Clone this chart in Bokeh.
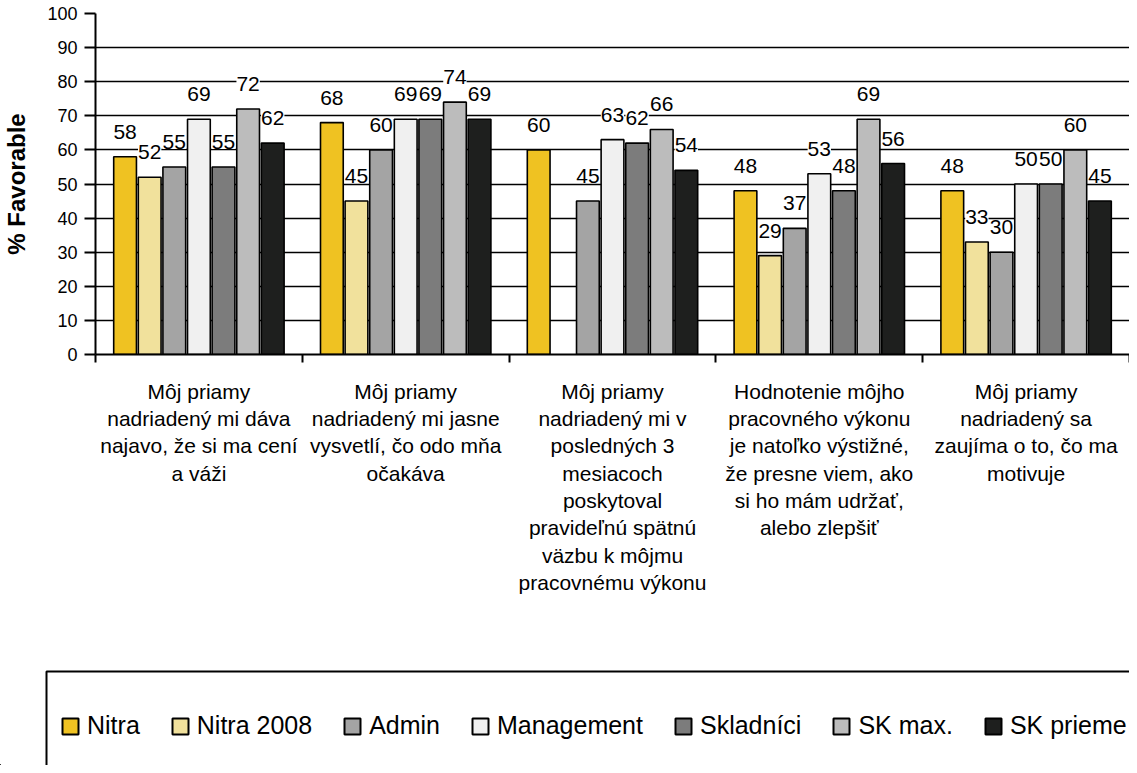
from bokeh.plotting import figure
from bokeh.models import ColumnDataSource, LabelSet, FixedTicker, Legend, LegendItem, Range1d
from bokeh.core.properties import value
from bokeh.layouts import column
from bokeh.embed import file_html
from bokeh.resources import INLINE

# ---------------- data ----------------
categories = [
    "Môj priamy\nnadriadený mi dáva\nnajavo, že si ma cení\na váži",
    "Môj priamy\nnadriadený mi jasne\nvysvetlí, čo odo mňa\nočakáva",
    "Môj priamy\nnadriadený mi v\nposledných 3\nmesiacoch\nposkytoval\npravideľnú spätnú\nväzbu k môjmu\npracovnému výkonu",
    "Hodnotenie môjho\npracovného výkonu\nje natoľko výstižné,\nže presne viem, ako\nsi ho mám udržať,\nalebo zlepšiť",
    "Môj priamy\nnadriadený sa\nzaujíma o to, čo ma\nmotivuje",
]
series_names = ["Nitra", "Nitra 2008", "Admin", "Management", "Skladníci", "SK max.", "SK prieme"]
nitra = [58, 68, 60, 48, 48]
nitra_2008 = [52, 45, None, 29, 33]
admin = [55, 60, 45, 37, 30]
management = [69, 69, 63, 53, 50]
skladnici = [55, 69, 62, 48, 50]
sk_max = [72, 74, 66, 69, 60]
sk_priemer = [62, 69, 54, 56, 45]
y_ticks = [0, 10, 20, 30, 40, 50, 60, 70, 80, 90, 100]
y_title = "% Favorable"

series_values = [nitra, nitra_2008, admin, management, skladnici, sk_max, sk_priemer]
colors = ["#EFC222", "#F1E19C", "#A4A4A4", "#F0F0F0", "#7C7C7C", "#BCBCBC", "#1E1F1E"]

FONT = "Liberation Sans"
W = 1129

# ---------------- chart ----------------
p = figure(width=W, height=620, x_range=Range1d(0, 5), y_range=Range1d(0, 100),
           output_backend="svg", toolbar_location=None,
           min_border_left=89, min_border_right=0, min_border_top=13, min_border_bottom=266)
p.frame_align = False
p.outline_line_color = None
p.xgrid.grid_line_color = None
p.ygrid.grid_line_color = "black"
p.ygrid.grid_line_width = 1.7
p.ygrid.ticker = FixedTicker(ticks=y_ticks)

step = 0.119
bar_w = 0.11
for k, (name, vals, col) in enumerate(zip(series_names, series_values, colors)):
    xs, ys, txt = [], [], []
    for i, v in enumerate(vals):
        if v is None:
            continue
        xs.append(i + 0.5 + (k - 3) * step)
        ys.append(v)
        txt.append(str(v))
    src = ColumnDataSource(dict(x=xs, top=ys, label=txt))
    p.vbar(x="x", top="top", width=bar_w, bottom=0, source=src,
           fill_color=col, line_color="black", line_width=1.6)
    p.add_layout(LabelSet(x="x", y="top", text="label", source=src,
                          y_offset=25, text_align="center", text_baseline="middle",
                          text_font=value(FONT), text_font_size=value("21px"),
                          text_color="black", background_fill_color="white"))

# y axis
p.yaxis.ticker = FixedTicker(ticks=y_ticks)
p.yaxis.axis_label = y_title
p.yaxis.axis_label_text_font = FONT
p.yaxis.axis_label_text_font_style = "bold"
p.yaxis.axis_label_text_font_size = "24px"
p.yaxis.axis_label_text_color = "black"
p.yaxis.axis_label_standoff = 14
p.yaxis.major_label_text_font = FONT
p.yaxis.major_label_text_font_size = "18px"
p.yaxis.major_label_text_color = "black"
p.yaxis.major_label_standoff = 7
p.yaxis.axis_line_color = "black"
p.yaxis.axis_line_width = 2
p.yaxis.major_tick_line_color = "black"
p.yaxis.major_tick_line_width = 2
p.yaxis.major_tick_out = 11
p.yaxis.major_tick_in = 0
p.yaxis.minor_tick_line_color = None

# x axis: category labels centred, group boundary ticks as minor ticks
centers = [i + 0.5 for i in range(len(categories))]
p.xaxis.ticker = FixedTicker(ticks=centers, minor_ticks=list(range(len(categories) + 1)))
p.xaxis.major_label_overrides = {c: lab for c, lab in zip(centers, categories)}
p.xaxis.major_label_text_font = FONT
p.xaxis.major_label_text_font_size = "21px"
p.xaxis.major_label_text_color = "black"
p.xaxis.major_label_text_line_height = 1.19
p.xaxis.major_label_standoff = 17
p.xaxis.major_tick_line_color = None
p.xaxis.major_tick_out = 0
p.xaxis.major_tick_in = 0
p.xaxis.minor_tick_line_color = "black"
p.xaxis.minor_tick_line_width = 2
p.xaxis.minor_tick_out = 8
p.xaxis.minor_tick_in = 0
p.xaxis.axis_line_color = "black"
p.xaxis.axis_line_width = 2

# ---------------- legend panel ----------------
H2 = 145
q = figure(width=W, height=H2, x_range=Range1d(0, W), y_range=Range1d(0, H2),
           output_backend="svg", toolbar_location=None, min_border=0)
q.frame_align = False
q.axis.visible = False
q.grid.visible = False
q.outline_line_color = None
q.quad(left=[46], right=[W + 100], bottom=[-100], top=[H2 - 51],
       fill_color="white", line_color="black", line_width=2)
items = []
for name, col in zip(series_names, colors):
    dr = q.vbar(x=[-500], top=[-500], bottom=[-501], width=1,
                fill_color=col, line_color="black", line_width=2)
    items.append(LegendItem(label=name, renderers=[dr], index=0))
legend = Legend(items=items, orientation="horizontal", location=(60, 25),
                border_line_color=None, background_fill_alpha=0, padding=0, margin=0,
                spacing=30, glyph_width=20, glyph_height=20, label_standoff=7,
                label_text_font=FONT, label_text_font_size="25px", label_text_color="black")
q.add_layout(legend, "center")

layout = column(p, q, spacing=0)
open("out.html", "w").write(file_html(layout, INLINE))
